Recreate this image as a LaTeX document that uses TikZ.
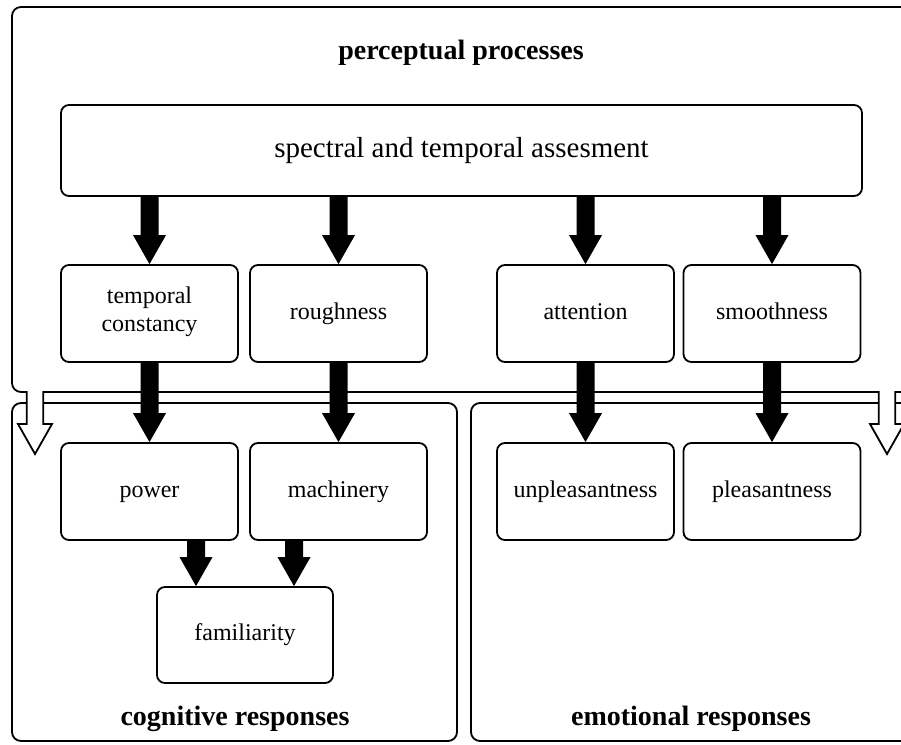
\documentclass[tikz,border=0pt]{standalone}
\usepackage{fontspec}
\setmainfont{Liberation Serif}
\usetikzlibrary{calc}
\begin{document}
\begin{tikzpicture}[x=1pt,y=-1pt,
  frame/.style={draw, line width=1.8pt, rounded corners=9pt},
  box/.style={draw, line width=1.8pt, rounded corners=8pt, fill=white,
    minimum width=177pt, minimum height=97pt, inner sep=0pt, align=center,
    font=\fontsize{24}{28}\selectfont, execute at begin node=\strut},
  heading/.style={font=\bfseries\fontsize{28}{33}\selectfont},
  % solid black block arrow between two points
  fat/.style={fill=black, to path={let \p1=(\tikztostart), \p2=(\tikztotarget) in
    (\x1-9pt,\y1) -- (\x1+9pt,\y1) -- (\x1+9pt,\y2+29pt) -- (\x1+16.5pt,\y2+29pt)
    -- (\x2,\y2) -- (\x1-16.5pt,\y2+29pt) -- (\x1-9pt,\y2+29pt) -- cycle}},
  % open outlined arrow leaving the bottom of the outer frame
  hollowarrow/.pic={
    \fill[white] (-8.25,-3) -- (-8.25,32) -- (-17,32) -- (0,62) -- (17,32) -- (8.25,32) -- (8.25,-3) -- cycle;
    \draw[line width=1.8pt, line join=miter] (-8.25,-0.9) -- (-8.25,32) -- (-17,32) -- (0,62)
      -- (17,32) -- (8.25,32) -- (8.25,-0.9);
  }
]
\useasboundingbox (0,0) rectangle (901,744);
\clip (0,0) rectangle (901,744);

% outer frames
\draw[frame] (12,7) rectangle (915,392);
\draw[frame] (12,403) rectangle (457,741);
\draw[frame] (471,403) rectangle (915,741);

\node[heading] (pp) at (461,53) {perceptual processes};
\node[heading] (cr) at (235,719) {cognitive responses};
\node[heading] (er) at (691,719) {emotional responses};

% hollow arrows from perceptual processes to the responses
\coordinate (hl) at (35,392);
\coordinate (hr) at (887,392);
\pic at (hl) {hollowarrow};
\pic at (hr) {hollowarrow};

% boxes
\node[box, minimum width=801pt, minimum height=91pt, font=\fontsize{29}{34}\selectfont]
  (spec) at (461.5,150.5) {spectral and temporal assesment};

\node[box] (tc) at (149.5,313.5) {temporal\\constancy\strut};
\node[box] (ro) at (338.5,313.5) {roughness};
\node[box] (at) at (585.5,313.5) {attention};
\node[box] (sm) at (772,313.5) {smoothness};

\node[box] (po) at (149.5,491.5) {power};
\node[box] (ma) at (338.5,491.5) {machinery};
\node[box] (un) at (585.5,491.5) {unpleasantness};
\node[box] (pl) at (772,491.5) {pleasantness};

\node[box, minimum height=96pt, minimum width=176pt] (fa) at (245,635) {familiarity};

% black arrows
\path[fat] (spec.south -| tc) to (tc.north);
\path[fat] (spec.south -| ro) to (ro.north);
\path[fat] (spec.south -| at) to (at.north);
\path[fat] (spec.south -| sm) to (sm.north);

\path[fat] (tc.south) to (po.north);
\path[fat] (ro.south) to (ma.north);
\path[fat] (at.south) to (un.north);
\path[fat] (sm.south) to (pl.north);

\path[fat] ([xshift=46.5pt]po.south) to ([xshift=-49pt]fa.north);
\path[fat] ([xshift=-44.5pt]ma.south) to ([xshift=49pt]fa.north);
\end{tikzpicture}
\end{document}
